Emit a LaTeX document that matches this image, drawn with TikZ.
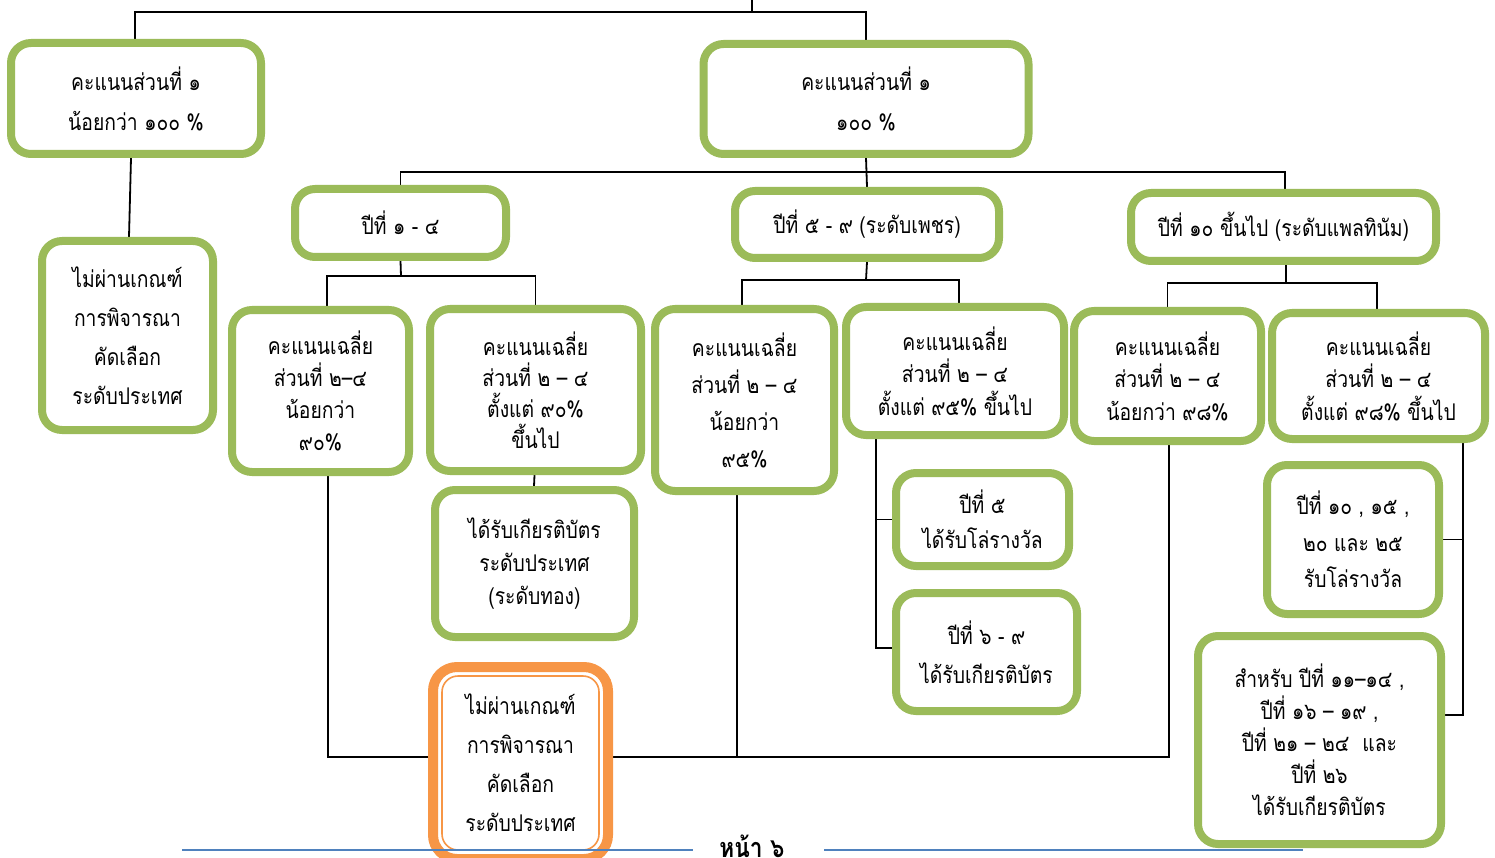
\documentclass[tikz,border=0pt]{standalone}
\usepackage{fontspec}
\newfontfamily\thai[Script=Thai, FakeStretch=0.84]{Loma}
\usetikzlibrary{backgrounds}
\definecolor{boxgreen}{HTML}{9BBB59}
\definecolor{boxorange}{HTML}{F79646}
\definecolor{rulerblue}{HTML}{4F81BD}
\tikzset{
  gbox/.style={draw=boxgreen, line width=8pt, rounded corners=20pt, fill=white,
    align=center, inner sep=0pt, font=\thai\fontsize{23}{#1}\selectfont},
  gbox/.default=32,
  obox/.style={draw=boxorange, line width=10pt, rounded corners=24pt, fill=white,
    align=center, inner sep=0pt, font=\thai\fontsize{23}{#1}\selectfont},
  oinner/.style={draw=boxorange, line width=1.6pt, rounded corners=16pt, inner sep=0pt},
  conn/.style={line width=1.8pt, black},
  rule/.style={line width=2pt, rulerblue},
}
\begin{document}
\begin{tikzpicture}[x=1pt,y=-1pt]
\useasboundingbox (0,0) rectangle (1495,858);
\clip (0,0) rectangle (1495,858);

% boxes
\node[gbox=40, minimum width=250pt, minimum height=111pt] (A) at (136,98.5)
  {คะแนนส่วนที่ ๑\\น้อยกว่า ๑๐๐ \%};
\node[gbox=40, minimum width=325pt, minimum height=110pt] (B) at (866,99)
  {คะแนนส่วนที่ ๑\\๑๐๐ \%};
\node[gbox=39, minimum width=171pt, minimum height=189pt] (C) at (127.5,335.5)
  {ไม่ผ่านเกณฑ์\\การพิจารณา\\คัดเลือก\\ระดับประเทศ};
\node[gbox, minimum width=211pt, minimum height=68pt] (D) at (400.5,223)
  {ปีที่ ๑ - ๔};
\node[gbox, minimum width=264pt, minimum height=67pt] (E) at (867,224.5)
  {ปีที่ ๕ - ๙ (ระดับเพชร)};
\node[gbox, minimum width=305pt, minimum height=68pt] (F) at (1283.5,227)
  {ปีที่ ๑๐ ขึ้นไป (ระดับแพลทินัม)};
\node[gbox=32, minimum width=177pt, minimum height=162pt] (G) at (320.5,391)
  {คะแนนเฉลี่ย\\ส่วนที่ ๒–๔\\น้อยกว่า\\๙๐\%};
\node[gbox=31, minimum width=211pt, minimum height=162pt] (H) at (535.5,390)
  {คะแนนเฉลี่ย\\ส่วนที่ ๒ – ๔\\ตั้งแต่ ๙๐\%\\ขึ้นไป};
\node[gbox=33, minimum width=199pt, minimum height=147pt] (I) at (534.5,563.5)
  {ได้รับเกียรติบัตร\\ระดับประเทศ\\(ระดับทอง)};
\node[obox=39, minimum width=175pt, minimum height=192pt] (O) at (520.5,763)
  {ไม่ผ่านเกณฑ์\\การพิจารณา\\คัดเลือก\\ระดับประเทศ};
\node[oinner, minimum width=157pt, minimum height=174pt] (O2) at (O.center) {};
\node[gbox=37, minimum width=179pt, minimum height=182pt] (J) at (744.5,400)
  {คะแนนเฉลี่ย\\ส่วนที่ ๒ – ๔\\น้อยกว่า\\๙๕\%};
\node[gbox=32.5, minimum width=218pt, minimum height=128pt] (K) at (955,371)
  {คะแนนเฉลี่ย\\ส่วนที่ ๒ – ๔\\ตั้งแต่ ๙๕\% ขึ้นไป};
\node[gbox=35, minimum width=173pt, minimum height=93pt] (L) at (982.5,519.5)
  {ปีที่ ๕\\ได้รับโล่รางวัล};
\node[gbox=39, minimum width=181pt, minimum height=118pt] (M) at (986.5,652)
  {ปีที่ ๖ - ๙\\ได้รับเกียรติบัตร};
\node[gbox=32.5, minimum width=187pt, minimum height=130pt] (N) at (1167.5,376)
  {คะแนนเฉลี่ย\\ส่วนที่ ๒ – ๔\\น้อยกว่า ๙๘\%};
\node[gbox=32.5, minimum width=213pt, minimum height=126pt] (P) at (1378.5,376)
  {คะแนนเฉลี่ย\\ส่วนที่ ๒ – ๔\\ตั้งแต่ ๙๘\% ขึ้นไป};
\node[gbox=36.5, minimum width=172pt, minimum height=149pt] (Q) at (1353,539.5)
  {ปีที่ ๑๐ , ๑๕ ,\\๒๐ และ ๒๕\\รับโล่รางวัล};
\node[gbox=32, minimum width=243pt, minimum height=208pt] (R) at (1319.5,740)
  {สำหรับ ปีที่ ๑๑–๑๔ ,\\ปีที่ ๑๖ – ๑๙ ,\\ปีที่ ๒๑ – ๒๔\ \ และ\\ปีที่ ๒๖\\ได้รับเกียรติบัตร};

% footer
\coordinate (r1a) at (182,850); \coordinate (r1b) at (693,850);
\coordinate (r2a) at (824,850); \coordinate (r2b) at (1303,850);
\draw[rule] (r1a) -- (r1b);
\draw[rule] (r2a) -- (r2b);
\node[font=\thai\bfseries\fontsize{27}{27}\selectfont, anchor=base] (page) at (752,857) {หน้า ๖};

% connectors
\begin{pgfonlayer}{background}
\coordinate (top) at (752,0);
\coordinate (bus0) at (752,12);
\coordinate (bus1) at (866,172);
\coordinate (bus2) at (401,276);
\coordinate (bus3) at (866,280);
\coordinate (bus4) at (1286,283);
\draw[conn] (top) -- (bus0);
\draw[conn] ([xshift=-1pt]A.north) |- (bus0) -| (B.north);
\draw[conn] ([xshift=-5pt]A.south) -- ([xshift=1.5pt]C.north);
\draw[conn] (B.south) -- (E.north);
\draw[conn] (D.north) |- (bus1) -| ([xshift=1.5pt]F.north);
\draw[conn] (D.south) -- (bus2);
\draw[conn] ([xshift=6.5pt]G.north) |- (bus2) -| (H.north);
\draw[conn] (E.south) -- (bus3);
\draw[conn] ([xshift=-2.5pt]J.north) |- (bus3) -| ([xshift=4pt]K.north);
\draw[conn] ([xshift=2.5pt]F.south) -- (bus4);
\draw[conn] (N.north) |- (bus4) -| ([xshift=-1.5pt]P.north);
\draw[conn] ([xshift=-1pt]H.south) -- ([xshift=-0.5pt]I.north);
\coordinate (ol) at ([yshift=6pt]O.west);
\coordinate (or) at ([yshift=6pt]O.east);
\draw[conn] ([xshift=7.5pt]G.south) |- (ol);
\draw[conn] (or) -| ([xshift=1.5pt]N.south);
\draw[conn] ([xshift=-7.5pt]J.south) -- ([xshift=-7.5pt]J.south |- or);
\coordinate (k1) at ([xshift=-79pt]K.south);
\draw[conn] (k1) |- ([yshift=4pt]M.west);
\draw[conn] (k1 |- L.west) -- (L.west);
\coordinate (p1) at ([xshift=84.5pt]P.south);
\draw[conn] (p1) |- ([yshift=25pt]R.east);
\draw[conn] (p1 |- Q.east) -- (Q.east);
\end{pgfonlayer}
\end{tikzpicture}
\end{document}
